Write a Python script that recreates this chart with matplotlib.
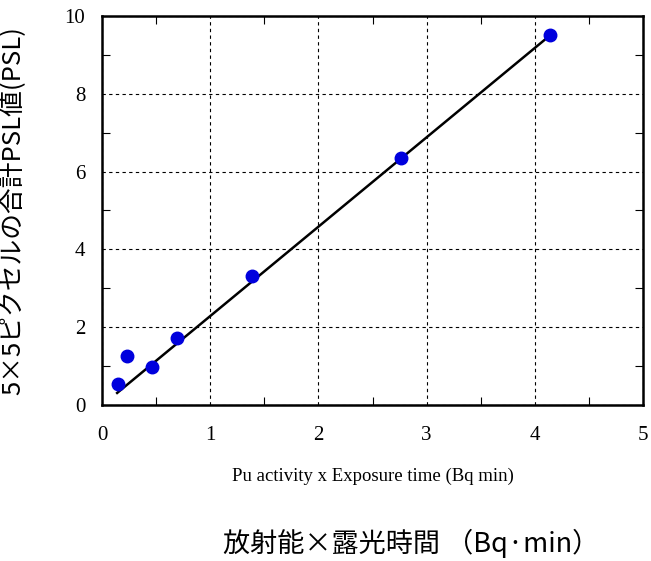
import matplotlib
matplotlib.use("Agg")
import matplotlib.pyplot as plt
from matplotlib.ticker import MultipleLocator

# measured points: Pu activity x exposure time vs summed PSL
x_vals = [0.15, 0.23, 0.46, 0.69, 1.39, 2.76, 4.14]
psl_vals = [0.54, 1.25, 0.98, 1.72, 3.32, 6.35, 9.51]

# fitted line end points
fit_x = [0.14, 4.14]
fit_y = [0.31, 9.50]

x_ticks = [0, 1, 2, 3, 4, 5]
y_ticks = [0, 2, 4, 6, 8, 10]

plt.rcParams['font.family'] = ['Liberation Serif', 'Noto Sans CJK JP']
jp = ['Noto Sans CJK JP', 'Liberation Serif']

fig = plt.figure(figsize=(6.51, 5.61), dpi=100)
ax = fig.add_axes([102 / 651, 1 - 405 / 561, 541 / 651, 389 / 561])

ax.plot(fit_x, fit_y, color='black', lw=1.8, zorder=3)
ax.plot(x_vals, psl_vals, 'o', color='#0000dd', ms=9, zorder=4)

ax.set_xlim(0, 5)
ax.set_ylim(0, 10)
ax.set_xticks(x_ticks)
ax.set_yticks(y_ticks)
ax.xaxis.set_minor_locator(MultipleLocator(0.5))
ax.yaxis.set_minor_locator(MultipleLocator(1))
ax.tick_params(which='both', direction='in', top=True, right=True, labelsize=15)
ax.tick_params(which='major', length=0)
ax.tick_params(axis='x', which='major', pad=15)
ax.tick_params(axis='y', which='major', pad=12)
ax.tick_params(which='minor', length=6, width=0.8)
ax.grid(True, which='major', color='black', linestyle=(0, (3, 3)), lw=0.8)
for s in ax.spines.values():
    s.set_linewidth(1.8)

ax.set_xlabel("Pu activity x Exposure time (Bq min)", fontsize=13.5)
ax.xaxis.set_label_coords(0.5, -0.162)
ax.set_ylabel("5×5ピクセルの合計PSL値(PSL)", fontsize=18.5, family=jp)
ax.yaxis.set_label_coords(-0.14, 0.5)

fig.text(411 / 651, 1 - 543 / 561, "放射能×露光時間 （Bq·min）", fontsize=19.5,
         ha='center', va='center', family=jp)

fig.savefig("out.png", dpi=100)
